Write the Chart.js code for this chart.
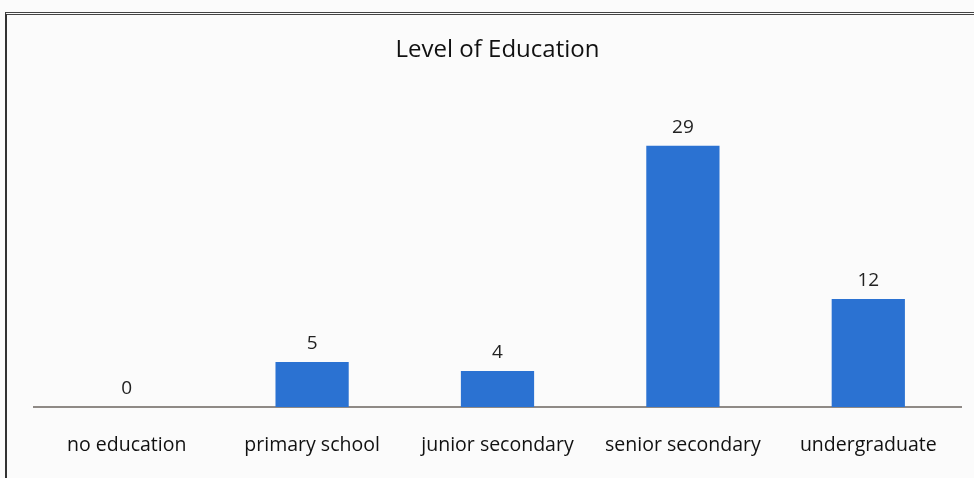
<!DOCTYPE html>
<html>
<head>
<meta charset="utf-8">
<script src="https://cdn.jsdelivr.net/npm/chart.js@4/dist/chart.umd.min.js"></script>
<style>
  html, body { margin: 0; padding: 0; background: #fbfbfb; }
  #wrap { position: relative; width: 974px; height: 478px; overflow: hidden; }
  #frame { position: absolute; left: 5px; top: 12px; width: 1000px; height: 500px;
           border-left: 2px solid #333; border-top: 3px double #444; box-sizing: border-box; }
  canvas { position: absolute; left: 0; top: 0; }
</style>
</head>
<body>
<div id="wrap">
  <div id="frame"></div>
  <canvas id="myChart" width="974" height="478"></canvas>
</div>
<script>
const categories = ['no education', 'primary school', 'junior secondary', 'senior secondary', 'undergraduate'];
const counts = [0, 5, 4, 29, 12];

// draws the count above each bar
const valueLabels = {
  id: 'valueLabels',
  afterDatasetsDraw(chart) {
    const c = chart.ctx;
    const meta = chart.getDatasetMeta(0);
    c.save();
    c.font = '19px "Open Sans"';
    c.fillStyle = '#222';
    c.textAlign = 'center';
    c.textBaseline = 'middle';
    meta.data.forEach((bar, i) => {
      c.fillText(String(counts[i]), bar.x, bar.y - 18);
    });
    c.restore();
  }
};

const ctx = document.getElementById('myChart').getContext('2d');
let myChart = new Chart(ctx, {
  type: 'bar',
  data: {
    labels: categories,
    datasets: [{
      label: 'Level of Education',
      data: counts,
      backgroundColor: '#2b72d2',
      categoryPercentage: 1,
      barPercentage: 0.395
    }]
  },
  options: {
    responsive: false,
    animation: false,
    layout: { padding: { left: 34, right: 13, top: 0, bottom: 0 } },
    plugins: {
      legend: { display: false },
      tooltip: { enabled: false },
      title: {
        display: true,
        text: 'Level of Education',
        color: '#111',
        font: { family: 'Open Sans', size: 24, weight: 'normal' },
        padding: { top: 36, bottom: 27 }
      }
    },
    scales: {
      x: {
        grid: { display: false, drawTicks: false },
        border: { display: true, color: '#8f8a86', width: 2 },
        ticks: { color: '#111', font: { family: 'Open Sans', size: 19.5 }, padding: 27, maxRotation: 0 },
        afterFit(scale) { scale.height = 71; }
      },
      y: { display: false, min: 0, max: 35 }
    }
  },
  plugins: [valueLabels]
});
</script>
</body>
</html>
